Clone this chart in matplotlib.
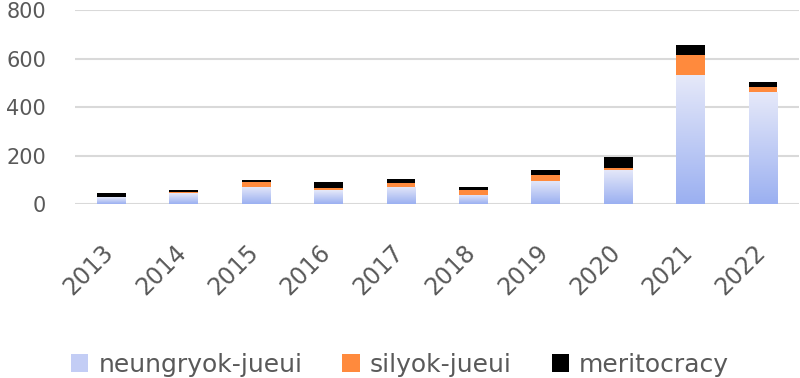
import numpy as np
import matplotlib.pyplot as plt
import matplotlib.transforms as mtrans
from matplotlib.colors import LinearSegmentedColormap
from matplotlib.patches import Patch

years = ['2013', '2014', '2015', '2016', '2017', '2018', '2019', '2020', '2021', '2022']
neungryok = [27, 45, 72, 56, 72, 38, 96, 141, 533, 461]
silyok = [3, 3, 20, 11, 13, 18, 22, 8, 81, 23]
merit = [14, 10, 8, 25, 20, 16, 22, 44, 41, 19]

plt.rcParams['font.family'] = ['DejaVu Sans']
txt = '#595959'

fig = plt.figure(figsize=(8, 3.78), dpi=100)
ax = fig.add_axes([0.094, 0.4603, 0.905, 0.5132])

x = np.arange(len(years))
w = 0.4
blue_cm = LinearSegmentedColormap.from_list('b', ['#9bb0f1', '#e6e9f9'])
grad = np.linspace(0, 1, 100).reshape(-1, 1)

# blue part with vertical gradient, one image per bar
bars = ax.bar(x, neungryok, w, color='none', zorder=3)
for b in bars:
    x0, y0 = b.get_x(), b.get_y()
    im = ax.imshow(grad, cmap=blue_cm, origin='lower', aspect='auto',
                   extent=[x0, x0 + b.get_width(), y0, y0 + b.get_height()], zorder=3)
    im.set_clip_path(b)
ax.bar(x, silyok, w, bottom=neungryok, color='#ff8a3d', zorder=3)
bot2 = [a + b for a, b in zip(neungryok, silyok)]
ax.bar(x, merit, w, bottom=bot2, color='#000000', zorder=3)

ax.set_xlim(-0.5, len(years) - 0.5)
ax.set_ylim(0, 800)
ax.set_yticks([0, 200, 400, 600, 800])
ax.yaxis.grid(True, color='#d9d9d9', linewidth=1.5, zorder=0)
for s in ax.spines.values():
    s.set_visible(False)
ax.tick_params(axis='y', length=0, labelsize=15, labelcolor=txt, pad=21)
ax.tick_params(axis='x', length=0, labelsize=17, labelcolor=txt, pad=26)
ax.set_xticks(x)
ax.set_xticklabels(years, rotation=45, ha='right', rotation_mode='anchor')
off = mtrans.ScaledTranslation(-10 / 100, 0, fig.dpi_scale_trans)
for lab in ax.get_xticklabels():
    lab.set_transform(lab.get_transform() + off)

handles = [Patch(facecolor='#c3cdf5', label='neungryok-jueui'),
           Patch(facecolor='#ff8a3d', label='silyok-jueui'),
           Patch(facecolor='#000000', label='meritocracy')]
fig.legend(handles=handles, loc='center', bbox_to_anchor=(0.5, 0.035), ncol=3,
           frameon=False, fontsize=18, labelcolor=txt, handlelength=0.7,
           handleheight=0.7, handletextpad=0.4, columnspacing=1.6)

fig.savefig('out.png')
